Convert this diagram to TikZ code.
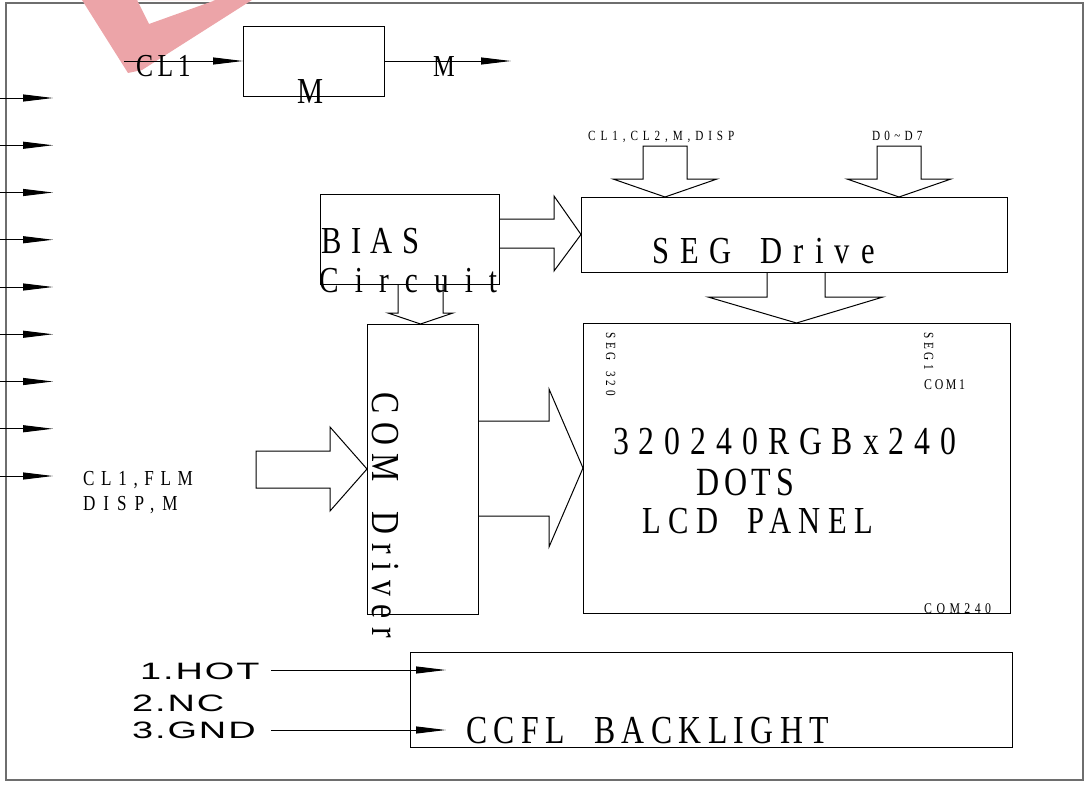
\documentclass[tikz,border=0pt]{standalone}
\usepackage{fontspec}
\usetikzlibrary{arrows.meta}
\newfontfamily\cadserif[FakeStretch=0.8]{Liberation Serif}
\newfontfamily\cadsans[FakeStretch=1.6]{Liberation Sans}
\definecolor{framegray}{RGB}{110,110,110}
\definecolor{wmred}{RGB}{236,164,168}

\begin{document}
\begin{tikzpicture}[x=1pt, y=-1pt,
    box/.style={draw, line width=1pt, inner sep=0pt, outer sep=0pt},
    sig/.style={line width=1pt, -{Triangle[length=30pt,width=7pt]}},
    blk/.style={line width=1pt, line join=miter},
    txt/.style={inner sep=0pt, anchor=base west},
    lbl/.style n args={3}{font={\cadserif\fontsize{#1}{#1}\selectfont\addfontfeatures{LetterSpace=#2}\spaceskip=#3em\relax}},
    pinlbl/.style={font={\cadsans\fontsize{23.7}{24}\selectfont\addfontfeatures{LetterSpace=8}}}]
  \useasboundingbox (0,0) rectangle (1088,787);

  % outer frame and watermark
  \node[draw=framegray, line width=1.5pt, minimum width=1077pt, minimum height=777pt] (frame) at (544.5,391.5) {};
  \fill[wmred, even odd rule] (82,0) -- (252,0) -- (142,70) -- (128,73) -- cycle (137,0) -- (216,0) -- (149,24) -- cycle;

  % blocks
  \node[box, minimum width=141pt, minimum height=70pt] (mbox) at (313.5,61) {};
  \node[box, minimum width=179pt, minimum height=90pt] (bias) at (409.5,239) {};
  \node[box, minimum width=426pt, minimum height=75pt] (seg) at (794,234.5) {};
  \node[box, minimum width=111pt, minimum height=290pt] (com) at (422.5,469) {};
  \node[box, minimum width=427pt, minimum height=290pt] (lcd) at (796.5,468) {};
  \node[box, minimum width=602pt, minimum height=95pt] (ccfl) at (711,699.5) {};

  % texts
  \node[txt, lbl={32}{14}{.25}] (clk) at (136,76) {CL1};
  \node[txt, lbl={36.6}{0}{.25}] (mtxt) at (297,103) {M};
  \node[txt, lbl={30.5}{0}{.25}] (mlbl) at (433,76) {M};
  \node[txt, lbl={14}{35}{.25}] (segin) at (588,140) {CL1,CL2,M,DISP};
  \node[txt, lbl={14}{30}{.25}] (datain) at (872,140) {D0\char"7E D7};
  \node[txt, lbl={38.2}{29}{.75}] (segtxt) at (652,263) {SEG Drive};
  \node[txt, lbl={38.2}{25}{.25}] (biastxt) at (321,253) {BIAS};
  \node[txt, lbl={36.6}{44}{.25}] (circtxt) at (319,292) {Circuit};
  \node[txt, lbl={39.7}{22}{.75}, rotate=-90] (comtxt) at (372,392) {COM Driver};
  \node[txt, lbl={21.4}{31}{.25}] (comin1) at (83,485) {CL1,FLM};
  \node[txt, lbl={21.4}{37}{.25}] (comin2) at (83,510) {DISP,M};
  \node[txt, lbl={14}{27}{.75}, rotate=-90] (seglast) at (606,332) {SEG 320};
  \node[txt, lbl={14}{27}{.25}, rotate=-90] (segfirst) at (924,332) {SEG1};
  \node[txt, lbl={14.8}{18}{.25}] (comfirst) at (924,389) {COM1};
  \node[txt, lbl={14.8}{30}{.25}] (comlast) at (924,613) {COM240};
  \node[txt, lbl={39.7}{25}{.25}] (dots1) at (613,454) {320240RGBx240};
  \node[txt, lbl={40}{12}{.25}] (dots2) at (696,495) {DOTS};
  \node[txt, lbl={38.2}{20}{.75}] (dots3) at (642,533) {LCD PANEL};
  \node[txt, lbl={39.7}{16}{.75}] (ccfltxt) at (466,743) {CCFL BACKLIGHT};
  \node[txt, pinlbl] (hot) at (140,679) {1.HOT};
  \node[txt, pinlbl] (nc) at (132,711) {2.NC};
  \node[txt, pinlbl] (gnd) at (132,738) {3.GND};

  % input pins on the left
  \foreach \k in {0,...,8} {
    \coordinate (pin\k) at (0,{98+47.25*\k});
    \draw[sig] (pin\k) -- ++(53,0);
  }

  % signal lines
  \coordinate (clkin) at (124,61);
  \coordinate (mout) at (511,61);
  \draw[sig] (clkin) -- (mbox.west);
  \draw[sig] (mbox.east) -- (mout);
  \coordinate (hotfrom) at (271,670);
  \coordinate (hotto) at (446,670);
  \coordinate (gndfrom) at (271,730);
  \coordinate (gndto) at (446,730);
  \draw[sig] (hotfrom) -- (hotto);
  \draw[sig] (gndfrom) -- (gndto);

  % hollow block arrows
  \draw[blk] (643,146) -- (687,146) -- (687,179) -- (717,179) -- (665,0 |- seg.north) -- (613,179) -- (643,179) -- cycle;
  \draw[blk] (877,146) -- (921,146) -- (921,179) -- (951,179) -- (899,0 |- seg.north) -- (847,179) -- (877,179) -- cycle;
  \draw[blk] (767,0 |- seg.south) -- (767,297) -- (708,297) -- (lcd.north) -- (883,297) -- (825,297) -- (825,0 |- seg.south);
  \draw[blk] (bias.east |- 0,219) -- (554,219) -- (554,196) -- (seg.west) -- (554,271) -- (554,248) -- (bias.east |- 0,248);
  \draw[blk] (398,0 |- bias.south) -- (398,313) -- (388,313) -- (420.5,0 |- com.north) -- (453,313) -- (443,313) -- (443,0 |- bias.south);
  \draw[blk] (com.east |- 0,421) -- (549,421) -- (549,389) -- (lcd.west) -- (549,547) -- (549,516) -- (com.east |- 0,516);
  \draw[blk] (256,451) -- (330,451) -- (330,427) -- (com.west) -- (330,511) -- (330,488) -- (256,488) -- cycle;
\end{tikzpicture}
\end{document}
